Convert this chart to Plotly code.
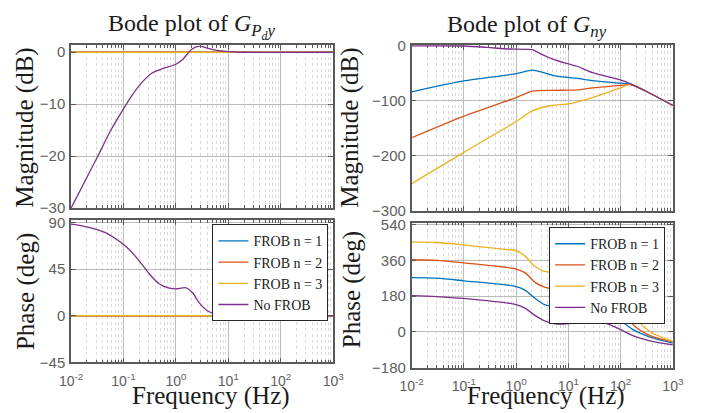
import plotly.graph_objects as go

# ---------------- data ----------------
SERIES_NAMES = ["FROB n = 1", "FROB n = 2", "FROB n = 3", "No FROB"]
SERIES_COLORS = ["#0072BD", "#D95319", "#EDB120", "#7E2F8E"]

DECADES = [0.01, 0.1, 1, 10, 100, 1000]
DECADE_LABELS = ["10<sup>-2</sup>", "10<sup>-1</sup>", "10<sup>0</sup>",
                 "10<sup>1</sup>", "10<sup>2</sup>", "10<sup>3</sup>"]
MINOR_STEPS = [2, 3, 4, 5, 6, 7, 8, 9]

# G_Pdy : FROB cases are flat at 0 dB / 0 deg
GPDY_FROB_F = [0.01, 1000]
GPDY_FROB_MAG = [0, 0]
GPDY_FROB_PH = [0, 0]

GPDY_NOFROB_MAG_F = [0.01, 0.032, 0.056, 0.1, 0.15, 0.23, 0.35, 0.54, 1.0,
                     1.36, 1.95, 2.77, 3.96, 6.0, 10.8, 20, 1000]
GPDY_NOFROB_MAG = [-30, -20.1, -15.2, -10.9, -8.1, -5.7, -4.0, -3.2, -2.3,
                   -1.35, 0.5, 1.17, 0.8, 0.37, 0.12, 0.0, 0.0]

GPDY_NOFROB_PH_F = [0.01, 0.018, 0.043, 0.086, 0.13, 0.2, 0.31, 0.47, 0.72,
                    1.0, 1.57, 2.1, 2.77, 3.96, 6.0, 10.8, 20, 1000]
GPDY_NOFROB_PH = [88.4, 86.3, 80.7, 71.4, 63.6, 52.9, 40.5, 31.2, 26.9,
                  26.0, 26.9, 21.9, 12.6, 4.9, 1.5, 0.6, 0.2, 0]

# G_ny magnitude (dB)
GNY_MAG_F = [
    [0.01, 0.1, 1.0, 2.03, 3.1, 5.5, 10, 14.8, 29, 100, 158, 320, 1000],
    [0.01, 0.1, 1.0, 2.03, 5, 10, 14.8, 29, 100, 158, 320, 1000],
    [0.01, 0.1, 1.0, 2.03, 4.7, 10, 29, 100, 158, 320, 1000],
    [0.01, 0.1, 0.28, 0.75, 2.03, 3.1, 5.5, 10, 14.8, 29, 100, 158, 320, 1000],
]
GNY_MAG = [
    [-83.7, -64, -50.6, -44.2, -47.7, -54.7, -57.6, -59.3, -63.4, -68, -69.8, -83.7, -108.7],
    [-167.4, -128, -94.2, -82.6, -81, -80.8, -80.2, -76.7, -72, -71, -83.7, -108.7],
    [-251, -194, -137.8, -118.6, -108.7, -105.8, -94.2, -76.7, -69.8, -83.7, -108.7],
    [0, -0.3, -2.9, -5.8, -7, -15.7, -25.6, -33, -37.2, -48.8, -62.2, -69.8, -83.7, -108.7],
]

# G_ny phase (deg)
GNY_PH_F = [
    [0.01, 0.03, 0.1, 1.0, 1.5, 2.3, 3.5, 6.1, 10, 19, 33, 58, 100, 180, 365, 1000],
    [0.01, 0.03, 0.1, 1.0, 1.5, 2.3, 3.5, 6, 10, 30, 60, 77, 100, 180, 365, 1000],
    [0.01, 0.03, 0.1, 0.5, 1.0, 1.5, 2.3, 3.5, 6, 10, 30, 60, 100, 118, 180, 365, 1000],
    [0.01, 0.03, 0.1, 1.0, 1.5, 2.3, 3.5, 6.1, 10, 19, 33, 58, 100, 180, 365, 1000],
]
GNY_PH = [
    [273, 270, 257, 228, 209, 168.6, 136.6, 123.7, 123.7, 128.5, 123.7, 96.5, 56.3, 8.2, -27, -57],
    [363, 360, 347, 316.3, 297, 249, 225, 214, 212, 210, 180, 160, 120, 32, -19, -51],
    [453.6, 450, 437.5, 418, 408.5, 380, 329, 304, 298, 295, 290, 250, 190, 160, 80, 0, -48],
    [182, 177.6, 168, 137, 118, 82.5, 55, 39, 40.7, 47, 52, 39, 10.6, -21.5, -45.5, -66],
]

# ---------------- styling ----------------
SERIF = "Liberation Serif"
SANS = "Liberation Sans"
AXIS_COLOR = "#5a5a5a"
TICK_TEXT = "#606060"
GRID_COLOR = "#bcbcbc"
MINOR_GRID_COLOR = "#dadada"
LW = 1.3

minor_vals = [k * d for d in DECADES[:-1] for k in MINOR_STEPS]

W, H = 710, 413


def px_x(a, b):
    return [a / W, b / W]


def px_y(top, bottom):
    return [1 - bottom / H, 1 - top / H]


fig = go.Figure()

# left column: G_Pdy
for i in range(3):
    fig.add_trace(go.Scatter(x=GPDY_FROB_F, y=GPDY_FROB_MAG, mode="lines",
                             line=dict(color=SERIES_COLORS[i], width=LW),
                             xaxis="x", yaxis="y", showlegend=False))
fig.add_trace(go.Scatter(x=GPDY_NOFROB_MAG_F, y=GPDY_NOFROB_MAG, mode="lines",
                         line=dict(color=SERIES_COLORS[3], width=LW, shape="spline", smoothing=0.8),
                         xaxis="x", yaxis="y", showlegend=False))
for i in range(3):
    fig.add_trace(go.Scatter(x=GPDY_FROB_F, y=GPDY_FROB_PH, mode="lines", name=SERIES_NAMES[i],
                             line=dict(color=SERIES_COLORS[i], width=LW),
                             xaxis="x2", yaxis="y2", legend="legend"))
fig.add_trace(go.Scatter(x=GPDY_NOFROB_PH_F, y=GPDY_NOFROB_PH, mode="lines", name=SERIES_NAMES[3],
                         line=dict(color=SERIES_COLORS[3], width=LW, shape="spline", smoothing=0.8),
                         xaxis="x2", yaxis="y2", legend="legend"))

# right column: G_ny
for i in range(4):
    fig.add_trace(go.Scatter(x=GNY_MAG_F[i], y=GNY_MAG[i], mode="lines",
                             line=dict(color=SERIES_COLORS[i], width=LW, shape="spline", smoothing=0.6),
                             xaxis="x3", yaxis="y3", showlegend=False))
for i in range(4):
    fig.add_trace(go.Scatter(x=GNY_PH_F[i], y=GNY_PH[i], mode="lines", name=SERIES_NAMES[i],
                             line=dict(color=SERIES_COLORS[i], width=LW, shape="spline", smoothing=0.8),
                             xaxis="x4", yaxis="y4", legend="legend2"))


def xaxis(domain, anchor, labels):
    return dict(
        type="log", domain=domain, anchor=anchor, range=[-2, 3],
        tickmode="array", tickvals=DECADES, ticktext=DECADE_LABELS,
        showticklabels=labels, ticks="inside", ticklen=5, tickcolor=AXIS_COLOR,
        showline=True, linecolor=AXIS_COLOR, linewidth=1.5, mirror="allticks",
        showgrid=True, gridcolor=GRID_COLOR, gridwidth=1, zeroline=False,
        tickfont=dict(family=SANS, size=14, color=TICK_TEXT), ticklabelstandoff=5,
        minor=dict(tickmode="array", tickvals=minor_vals, ticks="inside", ticklen=3,
                   tickcolor=AXIS_COLOR, showgrid=True, gridcolor=MINOR_GRID_COLOR,
                   griddash="dot", gridwidth=1),
    )


def yaxis(domain, anchor, rng, vals):
    return dict(
        domain=domain, anchor=anchor, range=rng,
        tickmode="array", tickvals=vals, ticks="inside", ticklen=5, tickcolor=AXIS_COLOR,
        showline=True, linecolor=AXIS_COLOR, linewidth=1.5, mirror="allticks",
        showgrid=True, gridcolor=GRID_COLOR, gridwidth=1, zeroline=False,
        tickfont=dict(family=SANS, size=15, color=TICK_TEXT), ticklabelstandoff=1,
    )


LX = px_x(61, 332)
RX = px_x(413, 683)

LEGEND_STYLE = dict(xanchor="right", yanchor="top", bgcolor="white",
                    bordercolor="#262626", borderwidth=1,
                    font=dict(family=SERIF, size=14, color="#1a1a1a"),
                    tracegroupgap=0, itemwidth=30)

fig.update_layout(
    width=W, height=H,
    margin=dict(l=0, r=0, t=0, b=0),
    paper_bgcolor="white", plot_bgcolor="white",
    font=dict(family=SERIF, color="#1a1a1a"),
    xaxis=xaxis(LX, "y", False),
    yaxis=yaxis(px_y(39, 208.3), "x", [-30, 1.3], [-30, -20, -10, 0]),
    xaxis2=xaxis(LX, "y2", True),
    yaxis2=yaxis(px_y(220.5, 368.7), "x2", [-45, 92.4], [-45, 0, 45, 90]),
    xaxis3=xaxis(RX, "y3", False),
    yaxis3=yaxis(px_y(38.5, 210.7), "x3", [-300, 1.5], [-300, -200, -100, 0]),
    xaxis4=xaxis(RX, "y4", True),
    yaxis4=yaxis(px_y(223.3, 374), "x4", [-180, 550], [-180, 0, 180, 360, 540]),
    legend=dict(x=327 / W, y=1 - 225 / H, **LEGEND_STYLE),
    legend2=dict(x=675 / W, y=1 - 228 / H, **LEGEND_STYLE),
    showlegend=True,
)

TITLE_FONT = dict(family=SERIF, size=24, color="#1a1a1a")
LABEL_FONT = dict(family=SERIF, size=25, color="#1a1a1a")
annotations = [
    dict(text="Bode plot of <i>G</i><sub><i>P</i><sub><i>d</i></sub><i>y</i></sub>",
         x=186 / W, y=1 - 19 / H, xanchor="center", yanchor="middle", font=TITLE_FONT),
    dict(text="Bode plot of <i>G</i><sub><i>ny</i></sub>",
         x=532 / W, y=1 - 19 / H, xanchor="center", yanchor="middle", font=TITLE_FONT),
    dict(text="Magnitude (dB)", x=14 / W, y=1 - 125 / H, textangle=-90,
         xanchor="center", yanchor="middle", font=LABEL_FONT),
    dict(text="Phase (deg)", x=14 / W, y=1 - 295 / H, textangle=-90,
         xanchor="center", yanchor="middle", font=LABEL_FONT),
    dict(text="Magnitude (dB)", x=349 / W, y=1 - 125 / H, textangle=-90,
         xanchor="center", yanchor="middle", font=LABEL_FONT),
    dict(text="Phase (deg)", x=351 / W, y=1 - 293 / H, textangle=-90,
         xanchor="center", yanchor="middle", font=LABEL_FONT),
    dict(text="Frequency (Hz)", x=206 / W, y=1 - 404 / H, xanchor="center",
         yanchor="middle", font=LABEL_FONT),
    dict(text="Frequency (Hz)", x=552 / W, y=1 - 404 / H, xanchor="center",
         yanchor="middle", font=LABEL_FONT),
]
for a in annotations:
    a.update(xref="paper", yref="paper", showarrow=False)
fig.update_layout(annotations=annotations)

fig.write_html("out.html")
